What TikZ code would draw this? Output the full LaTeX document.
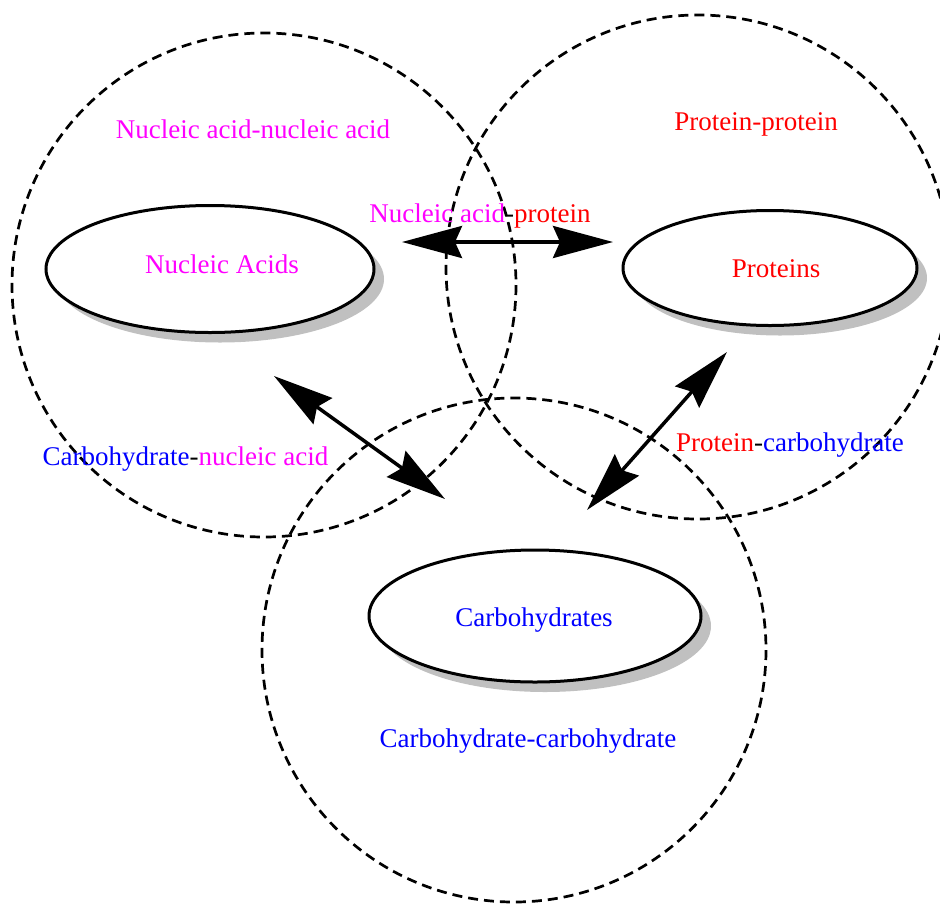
\documentclass[tikz,border=0pt]{standalone}
\usepackage{fontspec}
\setmainfont{Liberation Serif}
\usetikzlibrary{shapes.geometric,shadows,arrows.meta}
\definecolor{shadowgray}{RGB}{192,192,192}
\definecolor{nmag}{RGB}{255,0,255}
\definecolor{pred}{RGB}{255,0,0}
\definecolor{cblue}{RGB}{0,0,255}
\tikzset{
  zone/.style={draw=black, line width=2.7pt, dash pattern=on 10pt off 6pt},
  molecule/.style={ellipse, draw=black, fill=white, line width=3pt, inner sep=0pt,
    drop shadow={shadow xshift=10pt, shadow yshift=-10pt, fill=shadowgray, opacity=1}},
  txt/.style={anchor=base, inner sep=0pt, font=\fontsize{27}{32}\selectfont},
  link/.style={line width=3.5pt, {Stealth[length=60pt,width=32pt,inset=7pt]}-{Stealth[length=60pt,width=32pt,inset=7pt]}}
}
\begin{document}
\begin{tikzpicture}[x=1pt,y=-1pt]
\clip (0,0) rectangle (940,903);
% interaction zones
\draw[zone] (264,285) circle[radius=252];
\draw[zone] (698,267) circle[radius=252];
\draw[zone] (514,650) circle[radius=252];
% molecule classes
\node[molecule, minimum width=328pt, minimum height=127pt] (na) at (210,269) {};
\node[molecule, minimum width=294pt, minimum height=115pt] (pr) at (770,268) {};
\node[molecule, minimum width=332pt, minimum height=132pt] (ch) at (535,616) {};
\node[txt, text=nmag] (natxt) at (222,273) {Nucleic Acids};
\node[txt, text=pred] (prtxt) at (776,277) {Proteins};
\node[txt, text=cblue] (chtxt) at (534,626) {Carbohydrates};
% interaction labels
\node[txt, text=nmag] (nn) at (253,138) {Nucleic acid-nucleic acid};
\node[txt, text=pred] (pp) at (756,130) {Protein-protein};
\node[txt] (np) at (480,222) {\textcolor{nmag}{Nucleic acid}-\textcolor{pred}{protein}};
\node[txt] (cn) at (185.5,465) {\textcolor{cblue}{Carbohydrate}-\textcolor{nmag}{nucleic acid}};
\node[txt] (pc) at (790,451) {\textcolor{pred}{Protein}-\textcolor{cblue}{carbohydrate}};
\node[txt, text=cblue] (cc) at (528,747) {Carbohydrate-carbohydrate};
% arrow ends
\coordinate (h1) at (402,242);
\coordinate (h2) at (613,242);
\coordinate (l1) at (274,376);
\coordinate (l2) at (445,499);
\coordinate (r1) at (727,352);
\coordinate (r2) at (587,510);
\draw[link] (h1) -- (h2);
\draw[link] (l1) -- (l2);
\draw[link] (r1) -- (r2);
\end{tikzpicture}
\end{document}
